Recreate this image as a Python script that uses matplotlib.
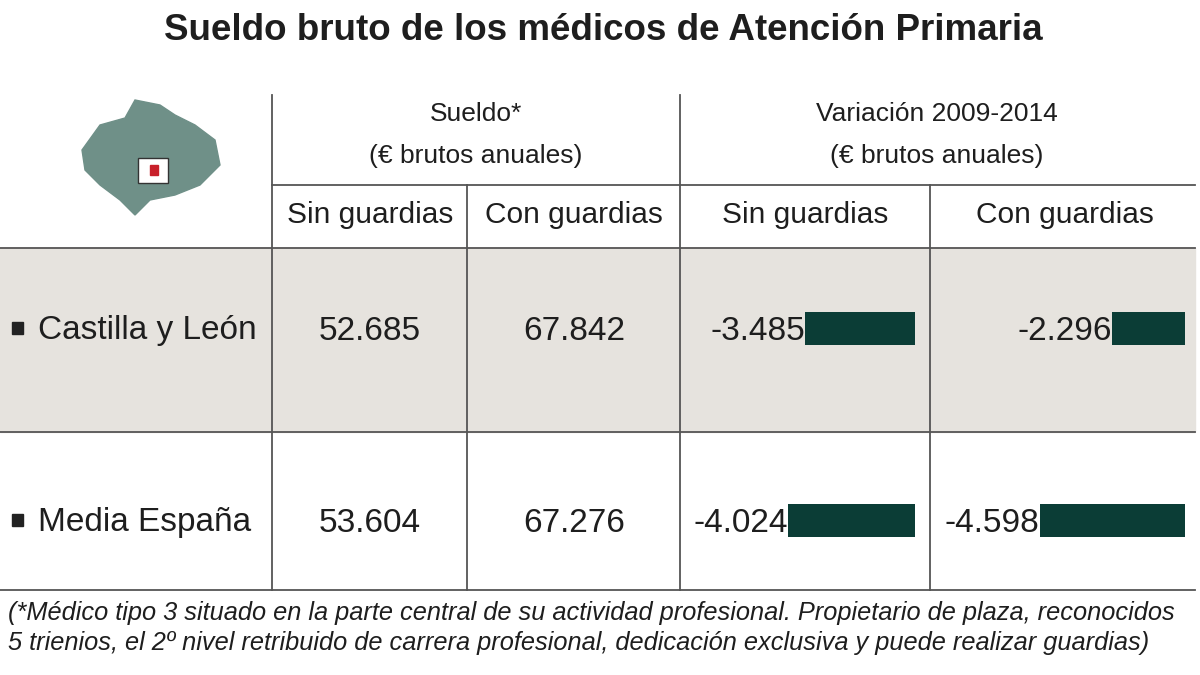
import matplotlib
matplotlib.use("Agg")
import matplotlib.pyplot as plt
from matplotlib.patches import Polygon, Rectangle

plt.rcParams['font.family'] = ['Liberation Sans', 'DejaVu Sans']

title = "Sueldo bruto de los médicos de Atención Primaria"
regions = ["Castilla y León", "Media España"]
sueldo_sin = ["52.685", "53.604"]
sueldo_con = ["67.842", "67.276"]
var_sin = [-3485, -4024]
var_con = [-2296, -4598]
footnote = ["(*Médico tipo 3 situado en la parte central de su actividad profesional. Propietario de plaza, reconocidos",
            "5 trienios, el 2º nivel retribuido de carrera profesional, dedicación exclusiva y puede realizar guardias)"]

def fmt(v):
    return "-" + f"{abs(v):,}".replace(",", ".")

fig = plt.figure(figsize=(12, 6.75), dpi=100)
ax = fig.add_axes([0, 0, 1, 1])
ax.set_xlim(0, 1200); ax.set_ylim(675, 0); ax.axis("off")
txt = "#1e1e1e"; lc = "#555555"; barc = "#0b3d36"
ax.text(603, 31, title, ha="center", va="center", fontsize=26.5, fontweight="bold", color=txt)
ax.add_patch(Rectangle((0, 248), 1195, 184, color="#e6e3de", zorder=0))
for y, x0 in [(185, 272), (248, 0), (432, 0), (590, 0)]:
    ax.plot([x0, 1195], [y, y], color=lc, lw=1.3)
for x, y0 in [(272, 95), (680, 95), (467, 185), (930, 185)]:
    ax.plot([x, x], [y0, 590], color=lc, lw=1.3)
fs = 19
for x, (a, b) in [(476, ("Sueldo*", "(€ brutos anuales)")), (937, ("Variación 2009-2014", "(€ brutos anuales)"))]:
    ax.text(x, 114, a, ha="center", va="center", fontsize=fs, color=txt)
    ax.text(x, 156, b, ha="center", va="center", fontsize=fs, color=txt)
for x, s in [(370, "Sin guardias"), (574, "Con guardias"), (805, "Sin guardias"), (1065, "Con guardias")]:
    ax.text(x, 215, s, ha="center", va="center", fontsize=21.5, color=txt)
# map icon
ax.add_patch(Polygon([(82, 150), (100, 125), (125, 118), (135, 100), (160, 105), (175, 115), (195, 125), (215, 140),
                      (220, 165), (200, 185), (175, 195), (150, 200), (135, 215), (120, 200), (100, 185), (85, 170)],
                     color="#6f9088", zorder=2))
ax.add_patch(Rectangle((138, 158), 30, 25, facecolor="white", edgecolor="#333", zorder=3))
ax.add_patch(Rectangle((150, 165), 8, 10, color="#c8202a", zorder=4))
rows_y = [328, 520]
scale = 0.0316
for i, y in enumerate(rows_y):
    ax.add_patch(Rectangle((12, y - 6), 11, 12, color="#222"))
    ax.text(38, y + 3, regions[i], ha="left", va="center", fontsize=24, color=txt)
    ax.text(370, y + 3, sueldo_sin[i], ha="center", va="center", fontsize=24, color=txt)
    ax.text(574, y + 3, sueldo_con[i], ha="center", va="center", fontsize=24, color=txt)
    for v, edge in [(var_sin[i], 915), (var_con[i], 1185)]:
        w = abs(v) * scale
        ax.barh(y, w, left=edge - w, height=33, color=barc)
        ax.text(edge - w, y + 3, fmt(v), ha="right", va="center", fontsize=24, color=txt)
for j, line in enumerate(footnote):
    ax.text(8, 613 + 30 * j, line, ha="left", va="center", fontsize=18.3, style="italic", color=txt)
fig.savefig("out.png", dpi=100)
